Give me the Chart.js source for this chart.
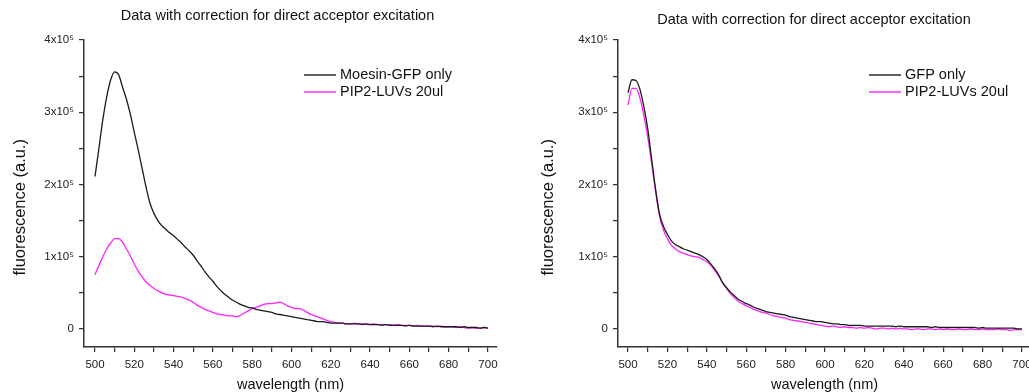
<!DOCTYPE html>
<html>
<head>
<meta charset="utf-8">
<script src="https://cdn.jsdelivr.net/npm/chart.js@4"></script>
<style>
  html, body { margin: 0; padding: 0; background: #fff; overflow: hidden; width: 1029px; height: 392px; }
  canvas { position: absolute; top: 0; }
  #left { left: 0; }
  #right { left: 520px; }
</style>
</head>
<body>
<canvas id="left" width="555" height="392"></canvas>
<canvas id="right" width="588" height="392"></canvas>
<script>
// wavelength grid (nm), shared by all four curves
const wavelength = [];
for (let w = 500; w <= 700; w += 2) wavelength.push(w);

// fluorescence, in units of 10^3 a.u.
const moesinGfpOnly = [
  211, 250, 290, 322, 345, 356, 352, 335, 318, 297,
  272, 248, 222, 196, 174, 160, 150, 143, 138, 133,
  129, 124, 119, 113, 108, 102, 94, 87, 79, 72,
  66, 59, 53, 48, 44, 40, 37, 34, 32, 30,
  29, 27, 26, 25, 24, 23, 21, 20, 19, 18,
  17, 16, 15, 14, 13, 12, 11, 10, 10, 9,
  8, 8, 8, 8, 7, 7, 7, 7, 6, 7,
  6, 6, 6, 5, 6, 5, 5, 5, 5, 4,
  5, 4, 4, 4, 4, 4, 3, 4, 3, 3,
  3, 3, 3, 2, 3, 2, 2, 2, 1, 2,
  1
];
const pip2LeftSeries = [
  75, 88, 100, 111, 119, 125, 125, 120, 111, 101,
  90, 80, 72, 65, 60, 56, 53, 50, 48, 47,
  46, 45, 44, 42, 40, 37, 33, 30, 27, 25,
  23, 21, 20, 19, 18, 18, 17, 19, 22, 25,
  28, 30, 32, 34, 35, 35, 36, 37, 35, 32,
  30, 28, 28, 26, 23, 20, 18, 16, 14, 12,
  10, 9, 8, 8, 7, 7, 8, 7, 7, 6,
  6, 7, 6, 6, 6, 6, 5, 6, 5, 5,
  5, 4, 5, 4, 4, 4, 4, 3, 4, 3,
  3, 3, 2, 3, 2, 1, 2, 1, 1, 2,
  1
];
const gfpOnly = [
  327, 345, 344, 332, 308, 277, 235, 193, 159, 142,
  131, 122, 117, 114, 111, 109, 107, 105, 103, 100,
  96, 90, 83, 75, 64, 57, 51, 46, 41, 38,
  35, 33, 30, 28, 26, 24, 23, 22, 21, 20,
  19, 17, 16, 15, 14, 13, 12, 11, 10, 10,
  9, 8, 7, 7, 6, 6, 5, 5, 5, 5,
  4, 4, 4, 4, 4, 4, 4, 4, 3, 4,
  3, 3, 3, 3, 3, 3, 3, 2, 3, 2,
  2, 2, 2, 2, 2, 2, 2, 2, 2, 1,
  2, 1, 1, 1, 1, 1, 1, 1, 1, 0,
  0
];
const pip2RightSeries = [
  310, 333, 333, 320, 296, 266, 229, 190, 156, 137,
  125, 116, 111, 107, 105, 103, 101, 100, 99, 96,
  93, 88, 81, 73, 64, 56, 49, 43, 38, 35,
  32, 30, 27, 25, 23, 22, 20, 18, 17, 16,
  15, 13, 12, 11, 10, 9, 8, 7, 6, 5,
  4, 3, 4, 3, 2, 3, 2, 2, 1, 2,
  1, 2, 1, 0, 1, 1, 0, 1, 0, 1,
  0, 0, -1, 0, 0, -1, 0, 0, -1, 0,
  -1, 0, -1, -1, 0, -1, -1, 0, -1, -1,
  0, -1, -1, -1, 0, -1, -1, -2, -1, -1,
  -1
];

const yTicks = [0, 100, 200, 300, 400];
const yTickLabels = ["0", "1x10\u2075", "2x10\u2075", "3x10\u2075", "4x10\u2075"];

const titleText = "Data with correction for direct acceptor excitation";
const FONT = "'Liberation Sans', Arial, sans-serif";
const BLACK = "#1a1a1a";
const MAGENTA = "#ff22ff";

function toPoints(ys) {
  return ys.map((y, i) => ({ x: wavelength[i], y: y }));
}

// little legend in the upper right of the plot, drawn like the original
const insideLegend = {
  id: "insideLegend",
  afterDraw(chart, args, opts) {
    const ctx = chart.ctx;
    ctx.save();
    ctx.font = "14.5px " + FONT;
    ctx.textBaseline = "middle";
    chart.data.datasets.forEach((ds, i) => {
      const y = opts.y + i * opts.gap;
      ctx.strokeStyle = ds.borderColor;
      ctx.lineWidth = 1.4;
      ctx.beginPath();
      ctx.moveTo(opts.x, y);
      ctx.lineTo(opts.x + 32, y);
      ctx.stroke();
      ctx.fillStyle = "#111";
      ctx.fillText(ds.label, opts.x + 36, y);
    });
    ctx.restore();
  }
};

function tickColor(step) {
  return (c) => {
    if (!c.tick) return "#333";
    const v = Math.round(c.tick.value * 1000) / 1000;
    return v % step === 0 ? "#333" : "rgba(0,0,0,0)";
  };
}

function makeChart(id, names, a, b, g) {
  return new Chart(document.getElementById(id), {
    type: "line",
    data: {
      datasets: [
        { label: names[0], data: toPoints(a), borderColor: BLACK, borderWidth: 1.3 },
        { label: names[1], data: toPoints(b), borderColor: MAGENTA, borderWidth: 1.3 }
      ]
    },
    options: {
      responsive: false,
      animation: false,
      devicePixelRatio: 1,
      layout: { padding: 0 },
      elements: { point: { radius: 0 }, line: { cubicInterpolationMode: "monotone" } },
      plugins: {
        legend: { display: false },
        tooltip: { enabled: false },
        title: {
          display: true,
          text: titleText,
          color: "#111",
          font: { family: FONT, size: 14.5, weight: "normal" },
          padding: { top: g.titleTop, bottom: g.titleBottom }
        },
        insideLegend: { x: g.legendX, y: g.legendY, gap: 17 }
      },
      scales: {
        x: {
          type: "linear",
          min: g.xMin,
          max: g.xMax,
          afterFit: (s) => { s.height = 45; },
          border: { display: true, color: "#333", width: 1.5 },
          grid: { drawOnChartArea: false, drawTicks: true, tickLength: 5,
                  color: tickColor(10), tickColor: tickColor(10), lineWidth: 1.2 },
          ticks: {
            stepSize: 10, maxTicksLimit: 100, includeBounds: false,
            autoSkip: false, maxRotation: 0,
            padding: 6, color: "#222",
            font: { family: FONT, size: 11.5 },
            callback: (v) => (Math.abs(v % 20) < 1e-6 ? String(v) : "")
          },
          title: {
            display: true, text: "wavelength (nm)", color: "#111",
            font: { family: FONT, size: 14.5 },
            padding: { top: 0, bottom: -2 }
          }
        },
        y: {
          min: -25,
          max: 400,
          afterFit: (s) => { s.width = g.yWidth; },
          border: { display: true, color: "#333", width: 1.5 },
          grid: { drawOnChartArea: false, drawTicks: true, tickLength: 5,
                  color: tickColor(50), tickColor: tickColor(50), lineWidth: 1.2 },
          ticks: {
            stepSize: 50, maxTicksLimit: 100, includeBounds: false,
            autoSkip: false, padding: 5, color: "#222",
            font: { family: FONT, size: 11.5 },
            callback: (v) => {
              const k = yTicks.indexOf(v);
              return k >= 0 ? yTickLabels[k] : "";
            }
          },
          title: {
            display: true, text: "fluorescence (a.u.)      ", color: "#111",
            font: { family: FONT, size: 16.5 },
            padding: { top: g.yTitlePad, bottom: 0 }
          }
        },
        // empty spacer on the right so the full-width title centres where the original does
        spacer: {
          type: "linear",
          position: "right",
          afterFit: (s) => { s.width = g.spacer; },
          border: { display: false },
          grid: { display: false },
          ticks: { display: false }
        }
      }
    },
    plugins: [insideLegend]
  });
}

// plot area: x 84..497 on the page; title centred at x 277
makeChart("left", ["Moesin-GFP only", "PIP2-LUVs 20ul"], moesinGfpOnly, pip2LeftSeries, {
  spacer: 58, yWidth: 84, xMin: 494.4, xMax: 704.6,
  titleTop: 7.3, titleBottom: 15.3, yTitlePad: 11,
  legendX: 304, legendY: 75
});

// plot area: x 618..1031 on the page (cut by the window); title centred at x 814
makeChart("right", ["GFP only", "PIP2-LUVs 20ul"], gfpOnly, pip2RightSeries, {
  spacer: 77, yWidth: 98, xMin: 494.9, xMax: 704.6,
  titleTop: 10.8, titleBottom: 11.8, yTitlePad: 18.5,
  legendX: 349, legendY: 75
});
</script>
</body>
</html>
